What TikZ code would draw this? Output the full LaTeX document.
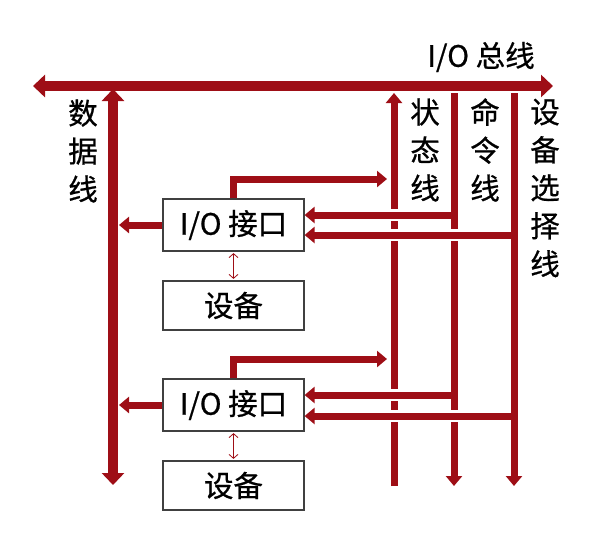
\documentclass[tikz,border=0pt]{standalone}
\usepackage{fontspec}
\setmainfont{Noto Sans CJK SC}[FakeBold=0.7]
\usetikzlibrary{arrows.meta}
\definecolor{busred}{RGB}{158,14,22}
\begin{document}
\begin{tikzpicture}[x=1pt,y=-1pt,
  box/.style={draw=black!75, line width=1.2pt, fill=white, minimum width=141pt, inner sep=0pt, font=\fontsize{29.5}{34}\selectfont},
  lbl/.style={align=center, inner sep=0pt, font=\fontsize{29.5}{38}\selectfont},
  bigbus/.style={draw=busred, line width=10pt},
  sig/.style={draw=busred, line width=7pt},
  gapw/.style={draw=white, line width=12pt},
  thin/.style={draw=busred, line width=0.8pt},
  bigtip/.tip={Triangle[width=22pt,length=12pt]},
  sigtip/.tip={Triangle[width=16pt,length=10pt]},
  vtip/.tip={Straight Barb[width=9pt,length=4pt]}
]
\useasboundingbox (0,0) rectangle (594,536);

% coordinates
\coordinate (busL) at (33,86);
\coordinate (busR) at (553,86);
\coordinate (dataTop) at (113,89);
\coordinate (dataBot) at (113,485);
\coordinate (stTop) at (394,93);
\coordinate (stBot) at (394,486);
\coordinate (cmTop) at (454,93);
\coordinate (cmBot) at (454,486);
\coordinate (seTop) at (514,93);
\coordinate (seBot) at (514,486);

% boxes
\node[box, minimum height=52pt] (if1) at (233.5,225) {I/O 接口};
\node[box, minimum height=49pt] (dev1) at (233.5,305.5) {设备};
\node[box, minimum height=52pt] (if2) at (233.5,405) {I/O 接口};
\node[box, minimum height=49pt] (dev2) at (233.5,485.5) {设备};

% labels
\node[lbl] (title) at (481,57) {I/O 总线};
\node[lbl] (ldata) at (83,151) {数\\据\\线};
\node[lbl] (lst) at (425,150) {状\\态\\线};
\node[lbl] (lcm) at (485,150) {命\\令\\线};
\node[lbl] (lse) at (545,188) {设\\备\\选\\择\\线};

% bus and vertical lines
\draw[bigbus, bigtip-bigtip] (busL) -- (busR);
\draw[bigbus, bigtip-bigtip] (dataTop) -- (dataBot);
\draw[sig, -sigtip] (stBot) -- (stTop);
\draw[sig, -sigtip] (cmTop) -- (cmBot);
\draw[sig, -sigtip] (seTop) -- (seBot);

% interface connections
\foreach \i/\yc/\yd/\ys/\yt in {1/215/225/235/179, 2/395/405/416/359}{
  \coordinate (st\i) at (387,\yt);
  \coordinate (cm\i) at (454,\yc);
  \coordinate (se\i) at (514,\ys);
  \coordinate (dd\i) at (119,\yd);
  % white gaps at crossings
  \draw[gapw] (388.5,\yc) -- (399.5,\yc);
  \draw[gapw] (388.5,\ys) -- (399.5,\ys);
  \draw[gapw] (448.5,\ys) -- (459.5,\ys);
  % signals
  \draw[sig, -sigtip] (if\i.north) |- (st\i);
  \draw[sig, -sigtip] (cm\i) -- (cm\i -| if\i.east);
  \draw[sig, -sigtip] (se\i) -- (se\i -| if\i.east);
  \draw[sig, -sigtip] (if\i.west |- dd\i) -- (dd\i);
  \draw[thin, vtip-vtip, shorten <=1.5pt, shorten >=1.5pt] (if\i.south) -- (dev\i.north);
}
\end{tikzpicture}
\end{document}
